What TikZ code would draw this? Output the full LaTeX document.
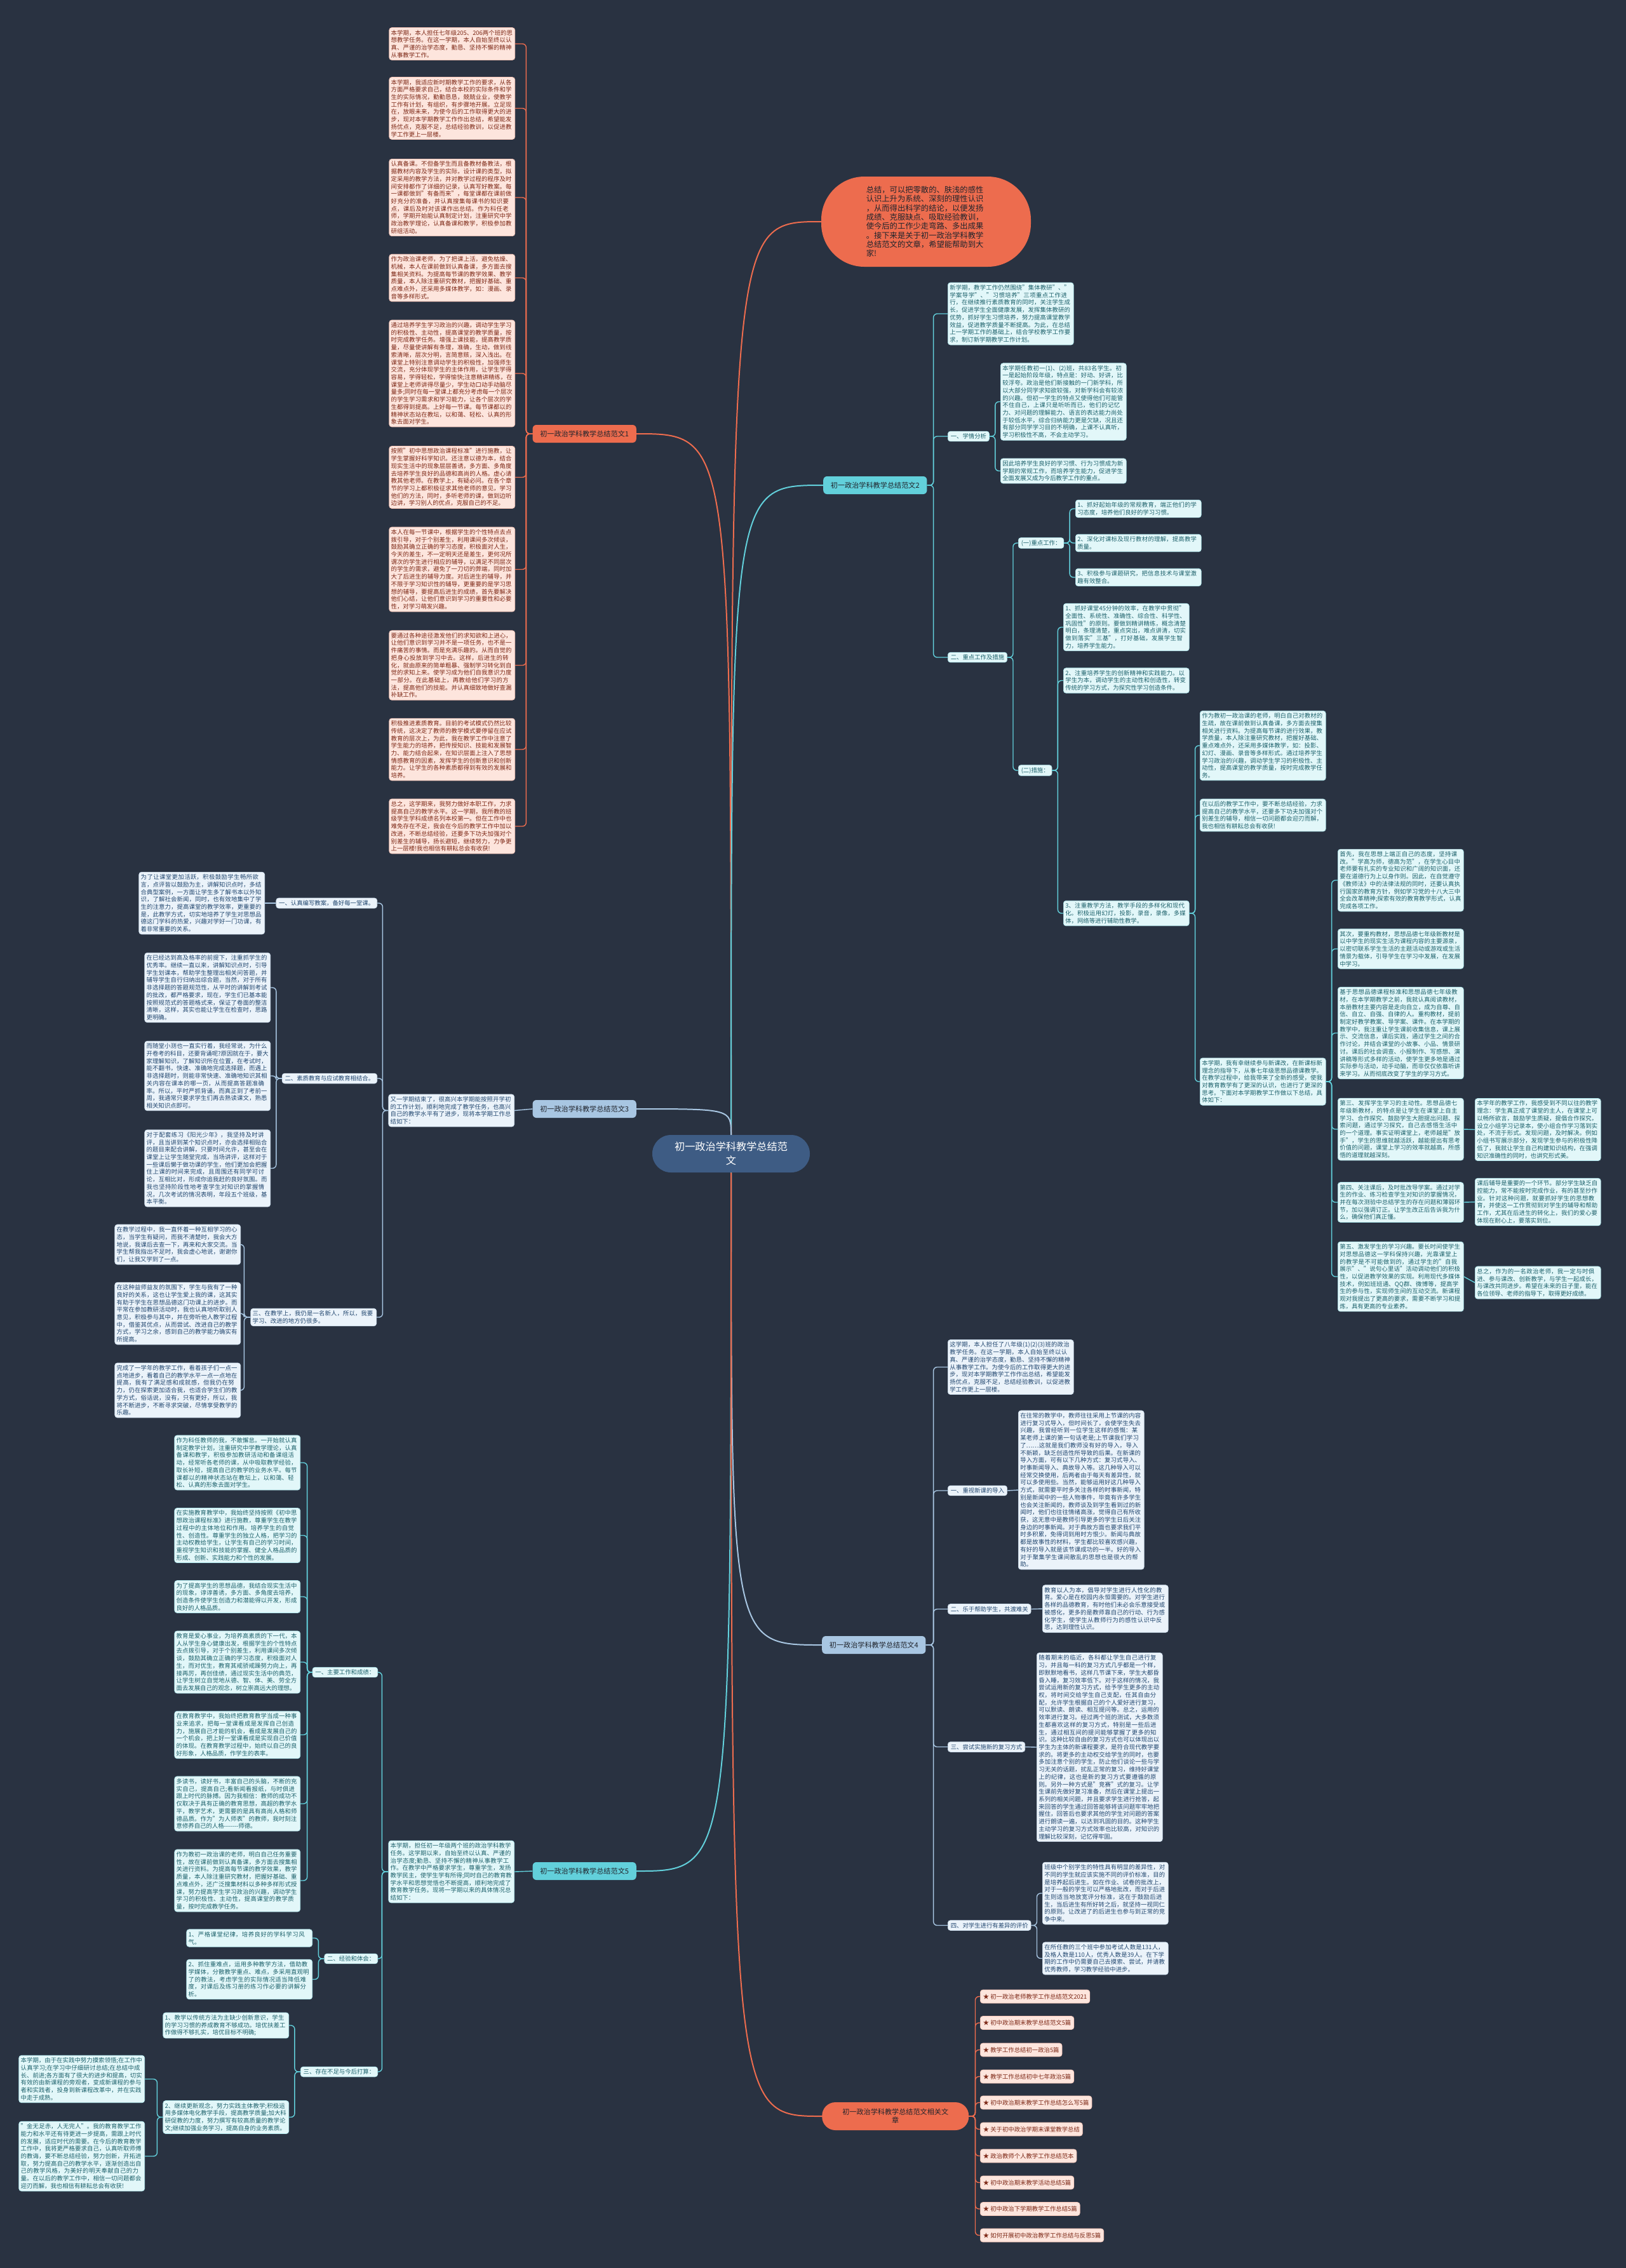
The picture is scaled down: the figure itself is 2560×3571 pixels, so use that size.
\documentclass[tikz,border=0pt]{standalone}
\usepackage{fontspec}
\setmainfont{Noto Sans CJK SC}
\XeTeXlinebreaklocale "zh"
\XeTeXlinebreakskip=0pt plus 1pt

\definecolor{bgc}{RGB}{41,50,65}
\definecolor{cenc}{RGB}{62,92,132}
\definecolor{orgc}{RGB}{237,108,78}
\definecolor{cyanc}{RGB}{98,208,219}
\definecolor{bluec}{RGB}{168,198,226}
\definecolor{pinkfill}{RGB}{253,229,221}
\definecolor{pinktext}{RGB}{125,40,22}
\definecolor{cyanfill}{RGB}{226,247,249}
\definecolor{cyantext}{RGB}{30,98,108}
\definecolor{bluefill}{RGB}{235,243,250}
\definecolor{bluetext}{RGB}{35,72,112}
\definecolor{darktext}{RGB}{32,36,44}

\newcommand{\blkfont}{\fontsize{8pt}{10pt}\selectfont}
\newcommand{\lvfont}{\fontsize{9.5pt}{11pt}\selectfont}
\newcommand{\cenfont}{\fontsize{13.8pt}{18.5pt}\selectfont}
\newcommand{\bubfont}{\fontsize{10.5pt}{12.25pt}\selectfont}

\tikzset{
  blk/.style={rectangle, rounded corners=3.4pt, inner xsep=2.5pt, inner ysep=3pt,
    text width=5.76cm, align=left, font=\blkfont, line width=0.6pt},
  hd/.style={rectangle, rounded corners=3.4pt, inner xsep=3.8pt, inner ysep=3pt,
    align=left, font=\blkfont, line width=0.6pt},
  pinkb/.style={fill=pinkfill, draw=pinkfill!75!orgc, text=pinktext},
  cyanb/.style={fill=cyanfill, draw=cyanfill!60!cyanc, text=cyantext},
  blueb/.style={fill=bluefill, draw=bluefill!60!bluec, text=bluetext},
  lvone/.style={rectangle, rounded corners=5pt, inner xsep=10pt, minimum height=0.84cm,
    font=\lvfont, text=darktext},
  mainln/.style={line width=1.7pt},
  subln/.style={line width=1.2pt, rounded corners=5pt}
}

\begin{document}
\begin{tikzpicture}[x=0.03cm, y=-0.03cm]
  \fill[bgc] (0,0) rectangle (2560,3571);
  \useasboundingbox (0,0) rectangle (2560,3571);

  % centre and first level
  \node[rectangle, rounded corners=25pt, fill=cenc, text=white, minimum width=7.44cm,
    minimum height=1.77cm, align=center, font=\cenfont, inner sep=0pt]
    (cen) at (1151,1816.5) {初一政治学科教学总结范\\文};
  \node[rectangle, rounded corners=58pt, fill=orgc, text=darktext, minimum width=9.9cm,
    minimum height=4.26cm, text width=5.65cm, align=left, font=\bubfont]
    (bub) at (1458,349) {总结，可以把零散的、肤浅的感性\\认识上升为系统、深刻的理性认识\\，从而得出科学的结论，以便发扬\\成绩、克服缺点、吸取经验教训，\\使今后的工作少走弯路、多出成果\\。接下来是关于初一政治学科教学\\总结范文的文章，希望能帮助到大\\家!};
  \node[lvone, fill=orgc, anchor=east] (n1) at (1002,683) {初一政治学科教学总结范文1};
  \node[lvone, fill=cyanc, anchor=west] (n2) at (1296,764) {初一政治学科教学总结范文2};
  \node[lvone, fill=bluec, anchor=east] (n3) at (1002,1746) {初一政治学科教学总结范文3};
  \node[lvone, fill=bluec, anchor=west] (n4) at (1294,2590) {初一政治学科教学总结范文4};
  \node[lvone, fill=cyanc, anchor=east] (n5) at (1002,2946) {初一政治学科教学总结范文5};
  \node[rectangle, rounded corners=18pt, fill=orgc, text=darktext, minimum width=6.93cm,
    minimum height=1.32cm, align=center, font=\lvfont, anchor=west]
    (rel) at (1294,3332) {初一政治学科教学总结范文相关文\\章};

  \draw[orgc, mainln] (cen.north) .. controls (1151,349) .. (bub.west);
  \draw[orgc, mainln] (cen.north) .. controls (1151,683) .. (n1.east);
  \draw[cyanc, mainln] (cen.north) .. controls (1151,764) .. (n2.west);
  \draw[bluec, mainln] (cen.north) .. controls (1151,1746) .. (n3.east);
  \draw[bluec, mainln] (cen.south) .. controls (1151,2590) .. (n4.west);
  \draw[cyanc, mainln] (cen.south) .. controls (1151,2946) .. (n5.east);
  \draw[orgc, mainln] (cen.south) .. controls (1151,3332) .. (rel.west);

  % 范文1
  \node[blk, pinkb, anchor=east] (b1) at (811,69) {本学期，本人担任七年级205、206两个班的思想教学任务。在这一学期，本人自始至终以认真、严谨的治学态度，勤恳、坚持不懈的精神从事教学工作。};
  \node[blk, pinkb, anchor=east] (b2) at (811,170.5) {本学期，我适应新时期教学工作的要求，从各方面严格要求自己，结合本校的实际条件和学生的实际情况，勤勤恳恳，兢兢业业，使教学工作有计划，有组织，有步骤地开展。立足现在，放眼未来，为使今后的工作取得更大的进步，现对本学期教学工作作出总结，希望能发扬优点，克服不足，总结经验教训，以促进教学工作更上一层楼。};
  \node[blk, pinkb, anchor=east] (b3) at (811,311) {认真备课。不但备学生而且备教材备教法，根据教材内容及学生的实际，设计课的类型，拟定采用的教学方法，并对教学过程的程序及时间安排都作了详细的记录，认真写好教案。每一课都做到"有备而来"，每堂课都在课前做好充分的准备，并认真搜集每课书的知识要点，课后及时对该课作出总结。作为科任老师，学期开始能认真制定计划，注重研究中学政治教学理论，认真备课和教学，积极参加教研组活动。};
  \node[blk, pinkb, anchor=east] (b4) at (811,437.5) {作为政治课老师，为了把课上活，避免枯燥、机械，本人在课前做到认真备课，多方面去搜集相关资料。为提高每节课的教学效果、教学质量，本人除注重研究教材，把握好基础、重点难点外，还采用多媒体教学，如：漫画、录音等多样形式。};
  \node[blk, pinkb, anchor=east] (b5) at (811,588) {通过培养学生学习政治的兴趣，调动学生学习的积极性、主动性，提高课堂的教学质量，按时完成教学任务。增强上课技能，提高教学质量，尽量使讲解有条理，准确，生动，做到线索清晰，层次分明，言简意赅，深入浅出。在课堂上特别注意调动学生的积极性，加强师生交流，充分体现学生的主体作用，让学生学得容易，学得轻松，学得愉快;注意精讲精练，在课堂上老师讲得尽量少，学生动口动手动脑尽量多;同时在每一堂课上都充分考虑每一个层次的学生学习需求和学习能力，让各个层次的学生都得到提高。上好每一节课。每节课都以的精神状态站在教坛，以和蔼、轻松、认真的形象去面对学生。};
  \node[blk, pinkb, anchor=east] (b6) at (811,751.5) {按照"初中思想政治课程标准"进行施教，让学生掌握好科学知识。还注意以德为本，结合现实生活中的现象层层善诱，多方面、多角度去培养学生良好的品德和高尚的人格。虚心请教其他老师。在教学上，有疑必问。在各个章节的学习上都积极征求其他老师的意见，学习他们的方法，同时，多听老师的课，做到边听边讲，学习别人的优点，克服自己的不足。};
  \node[blk, pinkb, anchor=east] (b7) at (811,896.5) {本人在每一节课中，根据学生的个性特点去点拨引导，对于个别差生，利用课间多次倾谈，鼓励其确立正确的学习态度，积极面对人生，今天的差生，不一定明天还是差生，更何况所谓次的学生进行相应的辅导，以满足不同层次的学生的需求，避免了一刀切的弊端，同时加大了后进生的辅导力度。对后进生的辅导，并不限于学习知识性的辅导，更重要的是学习思想的辅导，要提高后进生的成绩，首先要解决他们心结，让他们意识到学习的重要性和必要性，对学习萌发兴趣。};
  \node[blk, pinkb, anchor=east] (b8) at (811,1047.5) {要通过各种途径激发他们的求知欲和上进心，让他们意识到学习并不是一项任务，也不是一件痛苦的事情。而是充满乐趣的。从而自觉的把身心投放到学习中去。这样，后进生的转化，就由原来的简单粗暴、强制学习转化到自觉的求知上来。使学习成为他们自我意识力度一部分。在此基础上，再教给他们学习的方法，提高他们的技能。并认真细致地做好查漏补缺工作。};
  \node[blk, pinkb, anchor=east] (b9) at (811,1180) {积极推进素质教育。目前的考试模式仍然比较传统，这决定了教师的教学模式要停留在应试教育的层次上，为此，我在教学工作中注意了学生能力的培养，把传授知识、技能和发展智力、能力结合起来，在知识层面上注入了思想情感教育的因素，发挥学生的创新意识和创新能力。让学生的各种素质都得到有效的发展和培养。};
  \node[blk, pinkb, anchor=east] (b10) at (811,1301) {总之，这学期来，我努力做好本职工作，力求提高自己的教学水平。这一学期，我所教的班级学生学科成绩名列本校第一。但在工作中也难免存在不足，我会在今后的教学工作中加以改进，不断总结经验，还要多下功夫加强对个别差生的辅导，扬长避短，继续努力，力争更上一层楼!我也相信有耕耘总会有收获!};
  \foreach \c in {b1,b2,b3,b4,b5,b6,b7,b8,b9,b10}
    \draw[orgc, subln] (n1.west) -- ++(-10,0) |- (\c.east);

  % 范文2
  \node[blk, cyanb, anchor=west] (i2) at (1492,494) {新学期，教学工作仍然围绕"集体教研"、"学案导学"、"习惯培养"三项重点工作进行，在继续推行素质教育的同时，关注学生成长，促进学生全面健康发展，发挥集体教研的优势，抓好学生习惯培养，努力提高课堂教学效益，促进教学质量不断提高。为此，在总结上一学期工作的基础上，结合学校教学工作要求，制订新学期教学工作计划。};
  \node[hd, cyanb, anchor=west] (h21) at (1492,687) {一、学情分析};
  \node[hd, cyanb, anchor=west] (h22) at (1492,1035) {二、重点工作及措施};
  \node[blk, cyanb, anchor=west] (s1) at (1575,632.5) {本学期任教初一(1)、(2)班，共83名学生。初一是起始阶段年级，特点是：好动、好讲，比较浮夸。政治是他们新接触的一门新学科，所以大部分同学求知欲较强，对新学科会有较浓的兴趣。但初一学生的特点又使得他们可能管不住自己，上课只是听听而已，他们的记忆力、对问题的理解能力、语言的表达能力尚处于较低水平，综合归纳能力更是欠缺，况且还有部分同学学习目的不明确，上课不认真听，学习积极性不高，不会主动学习。};
  \node[blk, cyanb, anchor=west] (s2) at (1575,741.5) {因此培养学生良好的学习惯、行为习惯成为新学期的常规工作，而培养学生能力，促进学生全面发展又成为今后教学工作的重点。};
  \node[hd, cyanb, anchor=west] (k1) at (1603,855) {(一)重点工作：};
  \node[hd, cyanb, anchor=west] (k2) at (1603,1213) {(二)措施：};
  \node[blk, cyanb, anchor=west] (k11) at (1693,801) {1、抓好起始年级的常规教育，端正他们的学习态度，培养他们良好的学习习惯。};
  \node[blk, cyanb, anchor=west] (k12) at (1693,855) {2、深化对课标及现行教材的理解，提高教学质量。};
  \node[blk, cyanb, anchor=west] (k13) at (1693,909) {3、积极参与课题研究，把信息技术与课堂激趣有效整合。};
  \node[blk, cyanb, anchor=west] (m1) at (1674,987.5) {1、抓好课堂45分钟的效率，在教学中贯彻"全面性、系统性、准确性、综合性、科学性、巩固性"的原则。要做到精讲精练，概念清楚明白，条理清楚，重点突出，难点讲清，切实做到落实"三基"，打好基础，发展学生智力，培养学生能力。};
  \node[blk, cyanb, anchor=west] (m2) at (1674,1071.5) {2、注重培养学生的创新精神和实践能力。以学生为本，调动学生的主动性和创造性，转变传统的学习方式，为探究性学习创造条件。};
  \node[blk, cyanb, anchor=west] (m3) at (1674,1438) {3、注重教学方法，教学手段的多样化和现代化。积极运用幻灯，投影，录音，录像，多媒体，网络等进行辅助性教学。};
  \node[blk, cyanb, anchor=west] (d1) at (1889,1174) {作为教初一政治课的老师，明白自己对教材的生疏，故在课前做到认真备课，多方面去搜集相关进行资料。为提高每节课的进行效果，教学质量，本人除注重研究教材，把握好基础、重点难点外，还采用多媒体教学，如：投影、幻灯、漫画、录音等多样形式。通过培养学生学习政治的兴趣，调动学生学习的积极性、主动性，提高课堂的教学质量，按时完成教学任务。};
  \node[blk, cyanb, anchor=west] (d2) at (1889,1283.5) {在以后的教学工作中，要不断总结经验，力求提高自己的教学水平，还要多下功夫加强对个别差生的辅导，相信一切问题都会迎刃而解，我也相信有耕耘总会有收获!};
  \node[blk, cyanb, anchor=west] (d3) at (1889,1703) {本学期，我有幸继续参与新课改，在新课标新理念的指导下，从事七年级思想品德课教学。在教学过程中，给我带来了全新的感受，使我对教育教学有了更深的认识，也进行了更深的思考。下面对本学期教学工作做以下总结，具体如下：};
  \node[blk, cyanb, anchor=west] (p1) at (2106,1386) {首先，我在思想上端正自己的态度，坚持课改。"学高为师，德高为范"，在学生心目中老师要有扎实的专业知识和广阔的知识面，还要在道德行为上以身作则。因此，在自觉遵守《教师法》中的法律法规的同时，还要认真执行国家的教育方针，例如学习党的十八大三中全会改革精神;探索有效的教育教学形式，认真完成各项工作。};
  \node[blk, cyanb, anchor=west] (p2) at (2106,1494) {其次，要重构教材，思想品德七年级新教材是以中学生的现实生活为课程内容的主要源泉，以密切联系学生生活的主题活动或游戏或生活情景为载体，引导学生在学习中发展，在发展中学习。};
  \node[blk, cyanb, anchor=west] (p3) at (2106,1626.5) {基于思想品德课程标准和思想品德七年级教材，在本学期教学之前，我就认真阅读教材，本册教材主要内容是走向自立，成为自尊、自信、自立、自强、自律的人。重构教材，提前制定好教学教案、导学案、课件。在本学期的教学中，我注重让学生课前收集信息，课上展示、交流信息，课后实践，通过学生之间的合作讨论，并结合课堂的小故事、小品、情景研讨。课后的社会调查、小报制作、写感想、演讲稿等形式多样的活动，使学生更多地是通过实际参与活动，动手动脑，而非仅仅依靠听讲来学习。从而彻底改变了学生的学习方式。};
  \node[blk, cyanb, anchor=west] (p4) at (2106,1778) {第三、发挥学生学习的主动性。思想品德七年级新教材，的特点是让学生在课堂上自主学习、合作探究、鼓励学生大胆提出问题、探索问题，通过学习探究，自己去感悟生活中的一个道理。事实证明课堂上，老师越是"放手"，学生的思维就越活跃，越能提出有思考价值的问题，课堂上学习的效率就越高，所感悟的道理就越深刻。};
  \node[blk, cyanb, anchor=west] (p5) at (2106,1893) {第四、关注课后，及时批改导学案。通过对学生的作业、练习检查学生对知识的掌握情况，并在每次测验中总结学生的存在问题和薄弱环节，加以强调订正。让学生改正后告诉我为什么，确保他们真正懂。};
  \node[blk, cyanb, anchor=west] (p6) at (2106,2010) {第五、激发学生的学习兴趣。要长时间使学生对思想品德这一学科保持兴趣，光靠课堂上的教学是不可能做到的，通过学生的"自我展示"、"说句心里话"活动调动他们的积极性，以促进教学效果的实现。利用现代多媒体技术，例如班班通、QQ群、微博等，提高学生的参与性，实现师生间的互动交流。新课程观对我提出了更高的要求，需要不断学习和提炼，具有更高的专业素养。};
  \node[blk, cyanb, anchor=west] (q4) at (2322,1778.5) {本学年的教学工作，我感受到不同以往的教学理念：学生真正成了课堂的主人，在课堂上可以畅所欲言，鼓励学生质疑，提倡合作探究，设立小组学习记录本，使小组合作学习落到实处，不流于形式。发现问题，及时解决。例如小组书写展示部分，发现学生参与的积极性降低了，我就让学生自己构建知识结构，在强调知识准确性的同时，也讲究形式美。};
  \node[blk, cyanb, anchor=west] (q5) at (2322,1892.5) {课后辅导是重要的一个环节。部分学生缺乏自控能力，常不能按时完成作业，有的甚至抄作业。针对这种问题，就要抓好学生的思想教育，并使这一工作贯彻到对学生的辅导和帮助工作，尤其在后进生的转化上，我们的爱心要体现在耐心上，要落实到位。};
  \node[blk, cyanb, anchor=west] (q6) at (2322,2019.5) {总之，作为的一名政治老师，我一定与时俱进、参与课改、创新教学，与学生一起成长，与课改共同进步。希望在未来的日子里，能在各位领导、老师的指导下，取得更好成绩。};
  \foreach \c in {i2,h21,h22}
    \draw[cyanc, subln] (n2.east) -- ++(10,0) |- (\c.west);
  \foreach \c in {s1,s2}
    \draw[cyanc, subln] (h21.east) -- ++(9,0) |- (\c.west);
  \foreach \c in {k1,k2}
    \draw[cyanc, subln] (h22.east) -- ++(9,0) |- (\c.west);
  \foreach \c in {k11,k12,k13}
    \draw[cyanc, subln] (k1.east) -- ++(9,0) |- (\c.west);
  \foreach \c in {m1,m2,m3}
    \draw[cyanc, subln] (k2.east) -- ++(9,0) |- (\c.west);
  \foreach \c in {d1,d2,d3}
    \draw[cyanc, subln] (m3.east) -- ++(9,0) |- (\c.west);
  \foreach \c in {p1,p2,p3,p4,p5,p6}
    \draw[cyanc, subln] (d3.east) -- ++(9,0) |- (\c.west);
  \draw[cyanc, subln] (p4.east) -- (q4.west);
  \draw[cyanc, subln] (p5.east) -- (q5.west);
  \draw[cyanc, subln] (p6.east) -- (q6.west);

  % 范文3
  \node[blk, blueb, anchor=east] (g3) at (810,1748.5) {又一学期结束了，很高兴本学期能按照开学初的工作计划，顺利地完成了教学任务，也高兴自己的教学水平有了进步，现将本学期工作总结如下：};
  \node[hd, blueb, anchor=east] (t1) at (594,1422) {一、认真编写教案，备好每一堂课。};
  \node[hd, blueb, anchor=east] (t2) at (594,1698) {二、素质教育与应试教育相结合。};
  \node[blk, blueb, anchor=east] (t3) at (593,2074) {三、在教学上，我仍是一名新人，所以，我要学习、改进的地方仍很多。};
  \node[blk, blueb, anchor=east] (u1) at (417,1422) {为了让课堂更加活跃，积极鼓励学生畅所欲言，点评皆以鼓励为主，讲解知识点时，多结合典型案例，一方面让学生多了解书本以外知识，了解社会新闻，同时，也有效地集中了学生的注意力，提高课堂的教学效率，更重要的是，此教学方式，切实地培养了学生对思想品德这门学科的热爱，兴趣对学好一门功课，有着非常重要的关系。};
  \node[blk, blueb, anchor=east] (u21) at (426,1555) {在已经达到高及格率的前提下，注重抓学生的优秀率。继续一直以来，讲解知识点时，引导学生划课本，帮助学生整理出相关问答题，并辅导学生自行归纳出综合题，当然，对于所有非选择题的答题规范性，从平时的讲解到考试的批改，都严格要求，现在，学生们已基本能按照规范式的答题格式来，保证了卷面的整洁清晰，这样，其实也能让学生在检查时，思路更明确。};
  \node[blk, blueb, anchor=east] (u22) at (426,1694) {而随堂小测也一直实行着，我经常说，为什么开卷考的科目，还要背诵呢?原因就在于，要大家理解知识，了解知识所在位置，在考试时，能不翻书，快速、准确地完成选择题，而遇上非选择题时，则能非常快速、准确地知识其相关内容在课本的哪一页，从而提高答题准确率。所以，平时严抓背诵，而真正到了考前一周，我通常只要求学生们再去熟读课文，熟悉相关知识点即可。};
  \node[blk, blueb, anchor=east] (u23) at (426,1839.5) {对于配套练习《阳光少年》，我坚持及时讲评，且当讲到某个知识点时，亦会选择相贴合的题目来配合讲解，只要时间允许，甚至会在课堂上让学生随堂完成，当场讲评，这样对于一些课后懒于做功课的学生，他们更加会把握住上课的时间来完成，且周围还有同学可讨论，互相比对，形成你追我赶的良好氛围。而我也坚持阶段性地考查学生对知识的掌握情况，几次考试的情况表明，年段五个班级，基本平衡。};
  \node[blk, blueb, anchor=east] (u31) at (379,1959.5) {在教学过程中，我一直怀着一种互相学习的心态，当学生有疑问，而我不清楚时，我会大方地说，我课后去查一下，再来和大家交流。当学生帮我指出不足时，我会虚心地说，谢谢你们，让我又学到了一点。};
  \node[blk, blueb, anchor=east] (u32) at (379,2068) {在这种益师益友的氛围下，学生与我有了一种良好的关系，这也让学生爱上我的课，这其实有助于学生在思想品德这门功课上的进步。而平常在参加教研活动时，我也认真地听取别人意见，积极参与其中，并在旁听他人教学过程中，借鉴其优点，从而尝试、改进自己的教学方式，学习之余，感到自己的教学能力确实有所提高。};
  \node[blk, blueb, anchor=east] (u33) at (379,2189) {完成了一学年的教学工作，看着孩子们一点一点地进步，看着自己的教学水平一点一点地在提高，我有了满足感和成就感，但我仍在努力，仍在探索更加适合我，也适合学生们的教学方式，俗话说，没有，只有更好，所以，我将不断进步，不断寻求突破，尽情享受教学的乐趣。};
  \draw[bluec, subln] (n3.west) -- (g3.east);
  \foreach \c in {t1,t2,t3}
    \draw[bluec, subln] (g3.west) -- ++(-9,0) |- (\c.east);
  \draw[bluec, subln] (t1.west) -- (u1.east);
  \foreach \c in {u21,u22,u23}
    \draw[bluec, subln] (t2.west) -- ++(-9,0) |- (\c.east);
  \foreach \c in {u31,u32,u33}
    \draw[bluec, subln] (t3.west) -- ++(-10,0) |- (\c.east);

  % 范文4
  \node[blk, blueb, anchor=west] (r0) at (1492,2152.5) {这学期，本人担任了八年级(1)(2)(3)班的政治教学任务。在这一学期，本人自始至终以认真、严谨的治学态度，勤恳、坚持不懈的精神从事教学工作。为使今后的工作取得更大的进步，现对本学期教学工作作出总结，希望能发扬优点，克服不足，总结经验教训，以促进教学工作更上一层楼。};
  \node[hd, blueb, anchor=west] (r1) at (1492,2347) {一、重视新课的导入};
  \node[hd, blueb, anchor=west] (r2) at (1492,2533.5) {二、乐于帮助学生，共渡难关};
  \node[hd, blueb, anchor=west] (r3) at (1492,2750.5) {三、尝试实施新的复习方式};
  \node[hd, blueb, anchor=west] (r4) at (1492,3031.5) {四、对学生进行有差异的评价};
  \node[blk, blueb, anchor=west] (r1c) at (1603,2346) {在往常的教学中，教师往往采用上节课的内容进行复习式导入，但时间长了，会使学生失去兴趣，我曾经听到一位学生这样的感慨：某某老师上课的第一句话老是;上节课我们学习了……这就是我们教师没有好的导入，导入不新颖，缺乏创造性所导致的后果。在新课的导入方面，可有以下几种方式：复习式导入、时事新闻导入、典故导入等。这几种导入可以经常交换使用，后两者由于每天有差异性，就可以多使用些。当然，能够运用好这几种导入方式，就需要平时多关注各样的时事新闻，特别是新闻中的一些人物事件，毕竟有许多学生也会关注新闻的，教师谈及到学生看到过的新闻时，他们也往往情绪高涨，觉得自己有所收获，这无意中是教师引导更多的学生日后关注身边的时事新闻。对于典故方面也要求我们平时多积累，免得词到用时方恨少。新闻与典故都是故事性的材料，学生都比较喜欢感兴趣，有好的导入就是该节课成功的一半。好的导入对于聚集学生课间散乱的思想也是很大的帮助。};
  \node[blk, blueb, anchor=west] (r2c) at (1641,2533) {教育以人为本，倡导对学生进行人性化的教育。爱心是在校园内永恒需要的。对学生进行各样的品德教育，有时他们未必会乐意接受或被感化，更多的是教师靠自己的行动、行为感化学生，使学生从教师行为的感性认识中反思，达到理性认识。};
  \node[blk, blueb, anchor=west] (r3c) at (1632,2751) {随着期末的临近，各科都让学生自己进行复习，并且每一科的复习方式几乎都是一个样，即默默地看书，这样几节课下来，学生大都昏昏入睡，复习效率低下。对于这样的情况，我尝试运用新的复习方式，给予学生更多的主动权，将时间交给学生自己支配，任其自由分配，允许学生根据自己的个人爱好进行复习，可以默读、朗读、相互提问等。总之，运用的效率进行复习。经过两个班的测试，大多数须生都喜欢这样的复习方式，特别是一些后进生，通过相互间的提问能够掌握了更多的知识。这种比较自由的复习方式也可以体现出以学生为主体的新课程要求，是符合现代教学要求的。将更多的主动权交给学生的同时，也要多加注意个别的学生，防止他们谈论一些与学习无关的话题，扰乱正常的复习，维持好课堂上的纪律，这也是新的复习方式要遵循的原则。另外一种方式是"竞赛"式的复习。让学生课前先做好复习准备，然后在课堂上提出一系列的相关问题，并且要求学生进行抢答，起来回答的学生通过回答能够将该问题牢牢地把握住，回答后也要求其他的学生对问题的答案进行朗读一遍，以达到巩固的目的。这种学生主动学习的复习方式效率也比较高，对知识的理解比较深刻，记忆得牢固。};
  \node[blk, blueb, anchor=west] (r4a) at (1641,2981) {班级中个别学生的特性具有明显的差异性，对不同的学生就应该实施不同的评价标准，目的是培养起后进生。如在作业、试卷的批改上，对于一般的学生可以严格地批改，而对于后进生则适当地放宽评分标准，这在于鼓励后进生，当后进生有所好转之后，就坚持一视同仁的原则。让改进了的后进生也参与到正常的竞争中来。};
  \node[blk, blueb, anchor=west] (r4b) at (1641,3083.5) {在所任教的三个班中参加考试人数是131人，及格人数是110人，优秀人数是39人。在下学期的工作中仍需要自己去摸索、尝试，并请教优秀教师，学习教学经验中进步。};
  \foreach \c in {r0,r1,r2,r3,r4}
    \draw[bluec, subln] (n4.east) -- ++(12,0) |- (\c.west);
  \draw[bluec, subln] (r1.east) -- (r1c.west);
  \draw[bluec, subln] (r2.east) -- (r2c.west);
  \draw[bluec, subln] (r3.east) -- (r3c.west);
  \foreach \c in {r4a,r4b}
    \draw[bluec, subln] (r4.east) -- ++(9,0) |- (\c.west);

  % 范文5
  \node[blk, cyanb, anchor=east] (g5) at (810,2947) {本学期，担任初一年级两个班的政治学科教学任务。这学期以来，自始至终以认真、严谨的治学态度;勤恳、坚持不懈的精神从事教学工作。在教学中严格要求学生，尊重学生，发扬教学民主，使学生学有所得;同时自己的教育教学水平和思想觉悟也不断提高，顺利地完成了教育教学任务。现将一学期以来的具体情况总结如下：};
  \node[hd, cyanb, anchor=east] (v1) at (595,2633) {一、主要工作和成绩：};
  \node[hd, cyanb, anchor=east] (v2) at (595,3084) {二、经验和体会：};
  \node[hd, cyanb, anchor=east] (v3) at (595,3262) {三、存在不足与今后打算：};
  \node[blk, cyanb, anchor=east] (w1) at (473,2303) {作为科任教师的我，不敢懈怠。一开始就认真制定教学计划，注重研究中学教学理论，认真备课和教学，积极参加教研活动和备课组活动，经常听各老师的课，从中吸取教学经验，取长补短，提高自己的教学的业务水平。每节课都以的精神状态站在教坛上，以和蔼、轻松、认真的形象去面对学生。};
  \node[blk, cyanb, anchor=east] (w2) at (473,2417.5) {在实施教育教学中，我始终坚持按照《初中思想政治课程标准》进行施教，尊重学生在教学过程中的主体地位和作用。培养学生的自觉性、创造性。尊重学生的独立人格，把学习的主动权教给学生，让学生有自己的学习时间，重视学生知识和技能的掌握、健全人格品质的形成、创新、实践能力和个性的发展。};
  \node[blk, cyanb, anchor=east] (w3) at (473,2514) {为了提高学生的思想品德，我结合现实生活中的现象，谆谆善诱，多方面、多角度去培养，创造条件使学生创造力和潜能得以开发，形成良好的人格品质。};
  \node[blk, cyanb, anchor=east] (w4) at (473,2617) {教育是爱心事业，为培养高素质的下一代，本人从学生身心健康出发，根据学生的个性特点去点拨引导，对于个别差生，利用课间多次倾谈，鼓励其确立正确的学习态度，积极面对人生，而对优生，教育其戒骄戒躁努力向上，再接再厉，再创佳绩，通过现实生活中的典范，让学生树立自觉地从德、智、体、美、劳全方面去发展自己的观念，树立崇高远大的理想。};
  \node[blk, cyanb, anchor=east] (w5) at (473,2731.5) {在教育教学中，我始终把教育教学当成一种事业来追求，把每一堂课看成是发挥自己创造力，施展自己才能的机会，看成是发展自己的一个机会，把上好一堂课看成是实现自己价值的体现。在教育教学过程中，始终以自己的良好形象，人格品质，作学生的表率。};
  \node[blk, cyanb, anchor=east] (w6) at (473,2840) {多读书，读好书，丰富自己的头脑，不断的充实自己，提高自己;看新闻看报纸，与时俱进跟上时代的脉搏。因为我相信：教师的成功不仅取决于具有正确的教育思想，高超的教学水平，教学艺术，更需要的是具有高尚人格和师德品质。作为"为人师表"的教师，我时刻注意修养自己的人格-{}-{}-{}-{}-{}-{}-师德。};
  \node[blk, cyanb, anchor=east] (w7) at (473,2961) {作为教初一政治课的老师，明白自己任务重要性，故在课前做到认真备课，多方面去搜集相关进行资料。为提高每节课的教学效果，教学质量，本人除注重研究教材，把握好基础、重点难点外，还广泛搜集材料以多种多样形式授课，努力提高学生学习政治的兴趣，调动学生学习的积极性、主动性，提高课堂的教学质量，按时完成教学任务。};
  \node[blk, cyanb, anchor=east] (x1) at (492,3051.5) {1、严格课堂纪律，培养良好的学科学习风气。};
  \node[blk, cyanb, anchor=east] (x2) at (492,3116.5) {2、抓住重难点，运用多种教学方法，借助教学媒体，分散教学重点、难点，多采用直观明了的教法，考虑学生的实际情况适当降低难度，对课后及练习册的练习作必要的讲解分析。};
  \node[blk, cyanb, anchor=east] (y1) at (455,3189) {1、教学以传统方法为主缺少创新意识，学生的学习习惯的养成教育不够成功。培优扶差工作做得不够扎实，培优目标不明确;};
  \node[blk, cyanb, anchor=east] (y2) at (455,3333.5) {2、继续更新观念，努力实践主体教学;积极运用多媒体电化教学手段，提高教学质量;加大科研促教的力度，努力撰写有较高质量的教学论文;继续加强业务学习，提高自身的业务素质。};
  \node[blk, cyanb, anchor=east] (z1) at (228,3273.5) {本学期，由于在实践中努力摸索领悟;在工作中认真学习;在学习中仔细研讨总结;在总结中成长、前进;各方面有了很大的进步和提高，切实有效的由新课程的旁观者，变成新课程的参与者和实践者，投身到新课程改革中，并在实践中走于成熟。};
  \node[blk, cyanb, anchor=east] (z2) at (228,3395) {"金无足赤，人无完人"。我的教育教学工作能力和水平还有待更进一步提高，需跟上时代的发展，适应时代的需要。在今后的教育教学工作中，我将更严格要求自己，认真听取师傅的教诲，要不断总结经验，努力创新，开拓进取，努力提高自己的教学水平，逐渐创造出自己的教学风格，为美好的明天奉献自己的力量。在以后的教学工作中，相信一切问题都会迎刃而解，我也相信有耕耘总会有收获!};
  \draw[cyanc, subln] (n5.west) -- (g5.east);
  \foreach \c in {v1,v2,v3}
    \draw[cyanc, subln] (g5.west) -- ++(-10,0) |- (\c.east);
  \foreach \c in {w1,w2,w3,w4,w5,w6,w7}
    \draw[cyanc, subln] (v1.west) -- ++(-8,0) |- (\c.east);
  \foreach \c in {x1,x2}
    \draw[cyanc, subln] (v2.west) -- ++(-9,0) |- (\c.east);
  \foreach \c in {y1,y2}
    \draw[cyanc, subln] (v3.west) -- ++(-9,0) |- (\c.east);
  \foreach \c in {z1,z2}
    \draw[cyanc, subln] (y2.west) -- ++(-9,0) |- (\c.east);

  % related articles
  \foreach \yy/\lbl [count=\i] in {3143.5/初一政治老师教学工作总结范文2021,
      3185/初中政治期末教学总结范文5篇, 3227.5/教学工作总结初一政治5篇,
      3269.5/教学工作总结初中七年政治5篇, 3310.5/初中政治期末教学工作总结怎么写5篇,
      3352.5/关于初中政治学期末课堂教学总结, 3394.5/政治教师个人教学工作总结范本,
      3436.5/初中政治期末教学活动总结5篇, 3478/初中政治下学期教学工作总结5篇,
      3519.5/如何开展初中政治教学工作总结与反思5篇} {
    \node[hd, pinkb, minimum height=0.63cm, anchor=west] (rl\i) at (1543,\yy) {★ \lbl};
    \draw[orgc, subln] (rel.east) -- ++(10,0) |- (rl\i.west);
  }
\end{tikzpicture}
\end{document}
